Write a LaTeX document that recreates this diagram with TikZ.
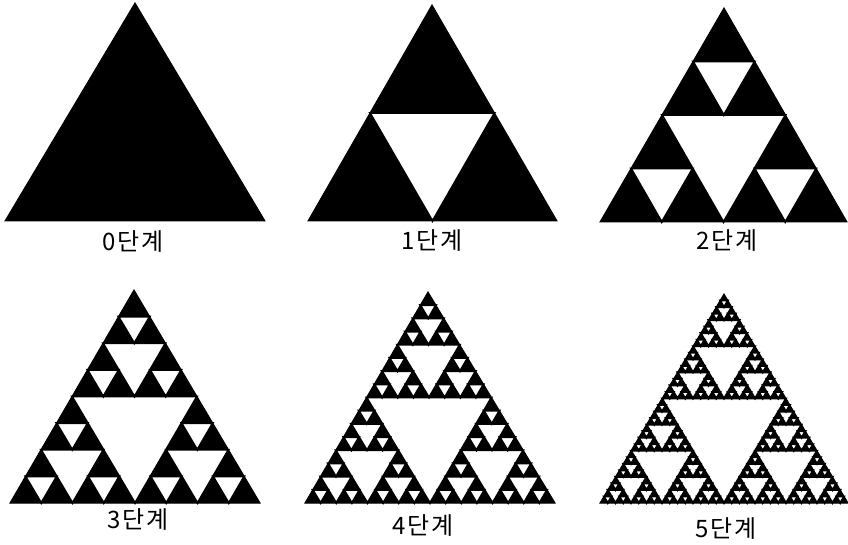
\documentclass[tikz,border=0pt]{standalone}
\usepackage{fontspec}
\newfontfamily\krfont{Noto Sans CJK KR}
\tikzset{
    stage/.style={fill=black, draw=black, line width=1pt, line join=miter}, % whole triangle
    hole/.style={fill=white, draw=black, line width=1.9pt, line join=miter}, % cut-out triangle
    stage label/.style={font=\krfont\fontsize{24}{26}\selectfont},
}
% cut the middle triangle out of (#2,#3)-(#4,#5)-(#6,#7), #1 times deep
\newcommand\sierphole[7]{%
  \ifnum#1>0
    \begingroup
      \pgfmathsetmacro\sabx{(#2+#4)/2}\pgfmathsetmacro\saby{(#3+#5)/2}%
      \pgfmathsetmacro\sbcx{(#4+#6)/2}\pgfmathsetmacro\sbcy{(#5+#7)/2}%
      \pgfmathsetmacro\scax{(#6+#2)/2}\pgfmathsetmacro\scay{(#7+#3)/2}%
      \pgfmathtruncatemacro\slvl{#1-1}%
      \filldraw[hole] (\sabx,\saby) -- (\sbcx,\sbcy) -- (\scax,\scay) -- cycle;
      \edef\sierpnext{%
        \noexpand\sierphole{\slvl}{#2}{#3}{\sabx}{\saby}{\scax}{\scay}%
        \noexpand\sierphole{\slvl}{\sabx}{\saby}{#4}{#5}{\sbcx}{\sbcy}%
        \noexpand\sierphole{\slvl}{\scax}{\scay}{\sbcx}{\sbcy}{#6}{#7}}%
      \sierpnext
    \endgroup
  \fi}

\begin{document}
\begin{tikzpicture}[x=1pt, y=-1pt]
    \useasboundingbox (0,0) rectangle (848,545);

    % Stages: level / base left / base right / apex / label
    \foreach \lvl/\ax/\ay/\bx/\by/\cx/\cy/\lx/\ly in {
        0/5/221/265/221/135/3/133/242,
        1/308/221/557/221/432/5/432/241,
        2/600/222/847/222/724/8/727/241,
        3/10/503/260/503/134/290/138/520,
        4/305/503/555/503/428/292/423/526,
        5/600/503/848/503/724/294/726/529} {
        \filldraw[stage] (\ax,\ay) -- (\bx,\by) -- (\cx,\cy) -- cycle;
        \sierphole{\lvl}{\ax}{\ay}{\bx}{\by}{\cx}{\cy}
        \node[stage label] (label\lvl) at (\lx,\ly) {\lvl\hspace{2pt}단\hspace{2pt}계};
    }
\end{tikzpicture}
\end{document}
